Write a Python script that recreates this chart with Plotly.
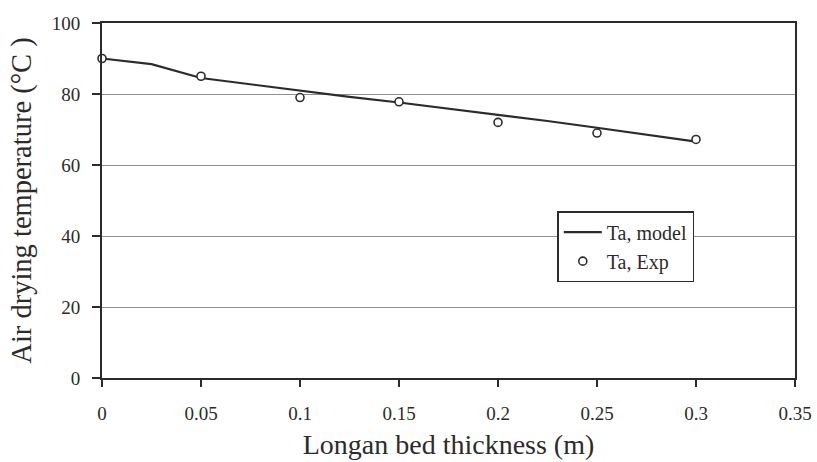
import plotly.graph_objects as go

model_x = [0, 0.025, 0.05, 0.075, 0.1, 0.125, 0.15, 0.175, 0.2, 0.225, 0.25, 0.275, 0.3]
model_y = [90.0, 88.4, 84.5, 82.7, 80.9, 79.2, 77.6, 75.9, 74.2, 72.4, 70.5, 68.6, 66.6]
exp_x = [0, 0.05, 0.1, 0.15, 0.2, 0.25, 0.3]
exp_y = [90.0, 85.0, 79.0, 77.8, 72.0, 69.0, 67.2]
x_ticks = [0, 0.05, 0.1, 0.15, 0.2, 0.25, 0.3, 0.35]
x_tick_text = ["0", "0.05", "0.1", "0.15", "0.2", "0.25", "0.3", "0.35"]
y_ticks = [0, 20, 40, 60, 80, 100]

ink = "#2b2b2b"
serif = "Liberation Serif"

fig = go.Figure()
fig.add_trace(go.Scatter(x=model_x, y=model_y, mode="lines", name="Ta, model",
                         line=dict(color=ink, width=2.2)))
fig.add_trace(go.Scatter(x=exp_x, y=exp_y, mode="markers", name="Ta, Exp",
                         marker=dict(symbol="circle", size=8, color="white",
                                     line=dict(color=ink, width=1.6)),
                         cliponaxis=False))

fig.update_layout(
    width=817, height=462,
    margin=dict(l=102, r=22, t=23, b=84),
    paper_bgcolor="white", plot_bgcolor="white",
    font=dict(family=serif, color=ink),
    showlegend=True,
    legend=dict(x=0.657, y=0.47, xanchor="left", yanchor="top",
                bgcolor="white", bordercolor=ink, borderwidth=1.5,
                font=dict(family=serif, size=20, color=ink),
                tracegroupgap=0, itemwidth=38),
    xaxis=dict(range=[0, 0.35], tickvals=x_ticks, ticktext=x_tick_text,
               showgrid=False, zeroline=False, automargin=False,
               showline=True, linecolor=ink, linewidth=2, mirror=True,
               ticks="outside", ticklen=7, tickcolor=ink, tickwidth=1.5,
               ticklabelstandoff=10,
               tickfont=dict(family=serif, size=19, color=ink),
               title=dict(text="Longan bed thickness (m)", standoff=12,
                          font=dict(family=serif, size=28, color=ink))),
    yaxis=dict(range=[0, 100], tickvals=y_ticks,
               showgrid=True, gridcolor="#8f8f8f", gridwidth=1, zeroline=False,
               automargin=False,
               showline=True, linecolor=ink, linewidth=2, mirror=True,
               ticks="outside", ticklen=8, tickcolor=ink, tickwidth=1.5,
               ticklabelstandoff=8,
               tickfont=dict(family=serif, size=19, color=ink),
               title=dict(text="Air drying temperature (°C )", standoff=12,
                          font=dict(family=serif, size=28.5, color=ink))),
)

fig.write_html("out.html")
